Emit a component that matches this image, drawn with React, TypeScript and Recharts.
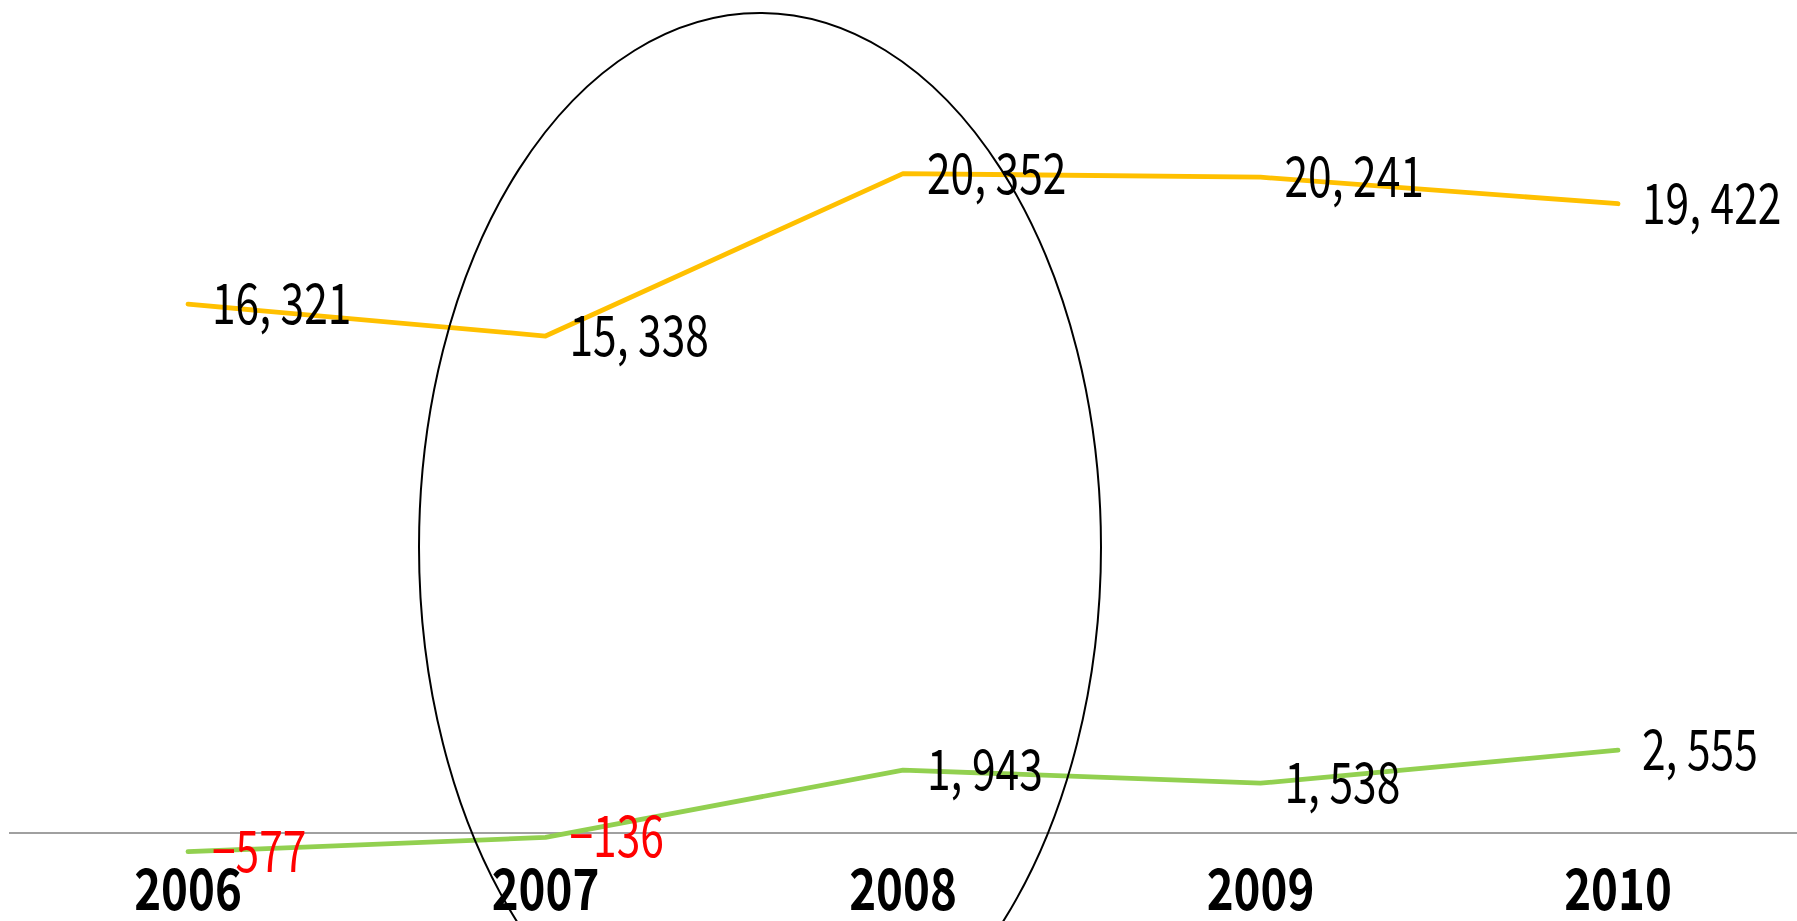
import React from 'react';
import { LineChart, Line, XAxis, YAxis, ReferenceLine, LabelList } from 'recharts';

const years = ['2006', '2007', '2008', '2009', '2010'];
const salesValues = [16321, 15338, 20352, 20241, 19422];
const profitValues = [-577, -136, 1943, 1538, 2555];

const data = years.map((year, i) => ({ year, sales: salesValues[i], profit: profitValues[i] }));

const W = 1797;
const H = 921;
const FONT = "'Noto Sans CJK JP', 'DejaVu Sans', sans-serif";

const fmt = (v: number) => {
  const abs = Math.abs(v);
  const s = abs >= 1000 ? `${Math.floor(abs / 1000)}, ${String(abs % 1000).padStart(3, '0')}` : String(abs);
  return v < 0 ? `\u2212${s}` : s;
};

const ValueLabel = (props: any) => {
  const { x, y, value } = props;
  if (x == null || y == null || value == null) return null;
  const color = value < 0 ? '#FF0000' : '#000000';
  return (
    <text
      transform={`translate(${x + 24}, ${y + 20}) scale(0.76, 1)`}
      x={0}
      y={0}
      fill={color}
      fontSize={56}
      fontFamily={FONT}
    >
      {fmt(Number(value))}
    </text>
  );
};

const YearTick = (props: any) => {
  const { x, y, payload } = props;
  return (
    <text
      transform={`translate(${x}, ${y + 44.6}) scale(0.8, 1)`}
      x={0}
      y={0}
      textAnchor="middle"
      fontWeight="bold"
      fontSize={57}
      fill="#000000"
      fontFamily={FONT}
    >
      {payload.value}
    </text>
  );
};

export default function App() {
  return (
    <div style={{ position: 'absolute', left: 0, top: 0, width: W, height: H, background: '#fff' }}>
      <LineChart width={W} height={H} data={data} margin={{ top: 23, right: 0, left: 9, bottom: 0 }}>
        <XAxis
          dataKey="year"
          scale="point"
          padding={{ left: 179, right: 179 }}
          axisLine={false}
          tickLine={false}
          tickSize={0}
          tickMargin={0}
          height={55.6}
          interval={0}
          tick={<YearTick />}
        />
        <YAxis hide width={0} domain={[-1000, 25000]} type="number" />
        <ReferenceLine y={0} stroke="#808080" strokeWidth={1.3} ifOverflow="extendDomain" />
        <Line
          dataKey="sales"
          stroke="#FFC000"
          strokeWidth={4.8}
          strokeLinecap="round"
          strokeLinejoin="round"
          dot={false}
          isAnimationActive={false}
        >
          <LabelList dataKey="sales" content={<ValueLabel />} />
        </Line>
        <Line
          dataKey="profit"
          stroke="#92D050"
          strokeWidth={4.8}
          strokeLinecap="round"
          strokeLinejoin="round"
          dot={false}
          isAnimationActive={false}
        >
          <LabelList dataKey="profit" content={<ValueLabel />} />
        </Line>
      </LineChart>
      <svg
        width={W}
        height={H}
        style={{ position: 'absolute', left: 0, top: 0, pointerEvents: 'none' }}
      >
        <ellipse cx={760} cy={547} rx={341} ry={534} fill="none" stroke="#000000" strokeWidth={2} />
      </svg>
    </div>
  );
}
